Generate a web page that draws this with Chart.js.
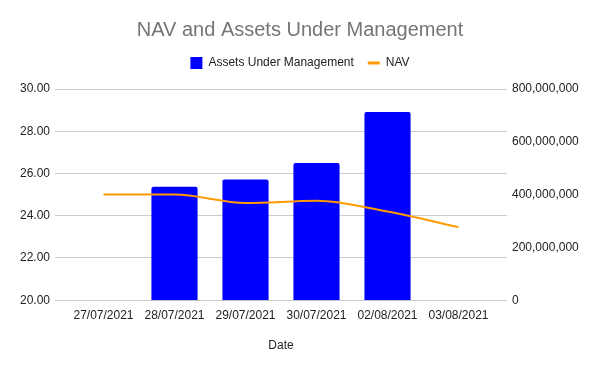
<!DOCTYPE html>
<html>
<head>
<meta charset="utf-8">
<script src="https://cdn.jsdelivr.net/npm/chart.js@4/dist/chart.umd.min.js"></script>
<style>
  html, body { margin: 0; padding: 0; background: #fff; }
  #wrap { width: 600px; height: 371px; }
</style>
</head>
<body>
<div id="wrap"><canvas id="navChart"></canvas></div>
<script>
// Data
const dates = ['27/07/2021', '28/07/2021', '29/07/2021', '30/07/2021', '02/08/2021', '03/08/2021'];
const aumValues = [null, 430000000, 457000000, 520000000, 713000000, null];
const navValues = [25.00, 25.00, 24.60, 24.71, 24.20, 23.46];
const navTicks = [20, 22, 24, 26, 28, 30];
const aumTicks = [0, 200000000, 400000000, 600000000, 800000000];

const font = 'Arial, "Liberation Sans", sans-serif';
Chart.defaults.font.family = font;
Chart.defaults.font.size = 12;
Chart.defaults.color = '#222';

// extra room under the legend
const legendSpacer = {
    id: 'legendSpacer',
    beforeInit(chart) {
        const fit = chart.legend.fit;
        chart.legend.fit = function () {
            fit.call(this);
            this.height += 10;
        };
    }
};

const edgePad = 0.683; // empty space left/right of first/last date, in categories

const ctx = document.getElementById('navChart').getContext('2d');
const navChart = new Chart(ctx, {
    type: 'bar',
    data: {
        labels: dates,
        datasets: [{
            label: 'Assets Under Management',
            data: aumValues,
            backgroundColor: '#0000ff',
            borderRadius: 2,
            borderSkipped: 'bottom',
            barPercentage: 0.65,
            categoryPercentage: 1,
            yAxisID: 'yAum',
            pointStyle: 'rect',
            order: 1
        }, {
            type: 'line',
            label: 'NAV',
            data: navValues,
            borderColor: '#ff9900',
            backgroundColor: '#ff9900',
            borderWidth: 2,
            pointRadius: 0,
            cubicInterpolationMode: 'monotone',
            yAxisID: 'yNav',
            pointStyle: 'line',
            order: 0
        }]
    },
    options: {
        responsive: true,
        maintainAspectRatio: false,
        animation: false,
        layout: { padding: 0 },
        plugins: {
            title: {
                display: true,
                text: 'NAV and Assets Under Management',
                color: '#757575',
                font: { size: 20, weight: 'normal' },
                padding: { top: 18, bottom: 1 }
            },
            legend: {
                position: 'top',
                labels: {
                    usePointStyle: true,
                    pointStyleWidth: 12,
                    boxWidth: 12,
                    boxHeight: 12,
                    padding: 14,
                    generateLabels: (chart) => {
                        const items = Chart.defaults.plugins.legend.labels.generateLabels(chart);
                        items.forEach(it => { if (it.pointStyle === 'line') it.lineWidth = 3; });
                        return items.sort((a, b) => a.datasetIndex - b.datasetIndex);
                    }
                }
            },
            tooltip: { enabled: false }
        },
        scales: {
            x: {
                offset: false,
                grid: { display: false },
                border: { display: false },
                ticks: { padding: 0, maxRotation: 0, autoSkip: false },
                title: { display: true, text: 'Date', padding: { top: 16, bottom: 18 } },
                afterBuildTicks: (scale) => {
                    scale._startValue = -edgePad;
                    scale._valueRange = dates.length - 1 + 2 * edgePad;
                }
            },
            yNav: {
                position: 'left',
                min: 20,
                max: 30,
                afterBuildTicks: (scale) => { scale.ticks = navTicks.map(v => ({ value: v })); },
                ticks: { padding: 5, callback: (v) => Number(v).toFixed(2) },
                grid: { color: '#cccccc', drawTicks: false },
                border: { display: false },
                afterFit: (scale) => { scale.width = 55; }
            },
            yAum: {
                position: 'right',
                min: 0,
                max: 800000000,
                afterBuildTicks: (scale) => { scale.ticks = aumTicks.map(v => ({ value: v })); },
                ticks: { padding: 5, callback: (v) => Number(v).toLocaleString('en-US') },
                grid: { display: false, drawTicks: false },
                border: { display: false },
                afterFit: (scale) => { scale.width = 93; }
            }
        }
    },
    plugins: [legendSpacer]
});
</script>
</body>
</html>
